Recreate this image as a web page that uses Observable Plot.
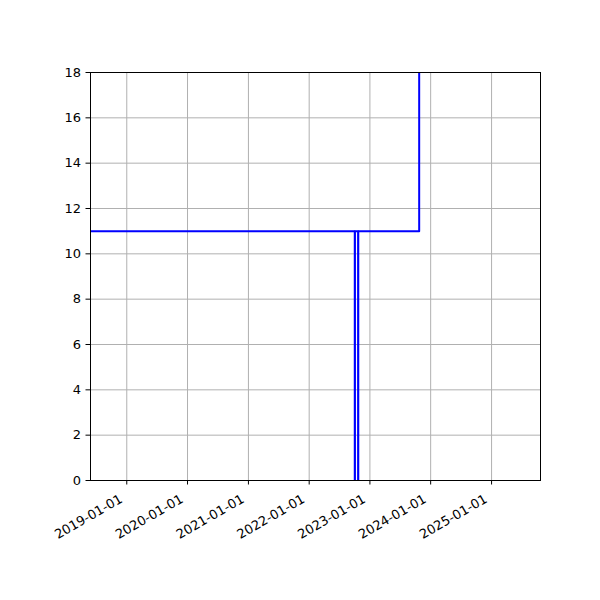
<!DOCTYPE html>
<html><head>
<meta charset="utf-8">
<script src="https://cdn.jsdelivr.net/npm/d3@7"></script>
<script src="https://cdn.jsdelivr.net/npm/@observablehq/plot@0.6"></script>
<style>body{margin:0;background:#fff}</style>
</head><body><div id="chart"></div>
<script>
const dates = ["2018-01-01", "2022-10-02", "2022-10-03", "2022-10-22", "2022-10-23", "2023-10-24", "2026-06-01"];
const values = [11, 0, 11, 0, 11, 25, 25];
const xTickLabels = ["2019-01-01", "2020-01-01", "2021-01-01", "2022-01-01", "2023-01-01", "2024-01-01", "2025-01-01"];
const yTicks = [0, 2, 4, 6, 8, 10, 12, 14, 16, 18];
const xDomain = ["2018-05-28", "2025-10-22"];

const data = dates.map((d, i) => ({date: new Date(d), value: values[i]}));
const xTicks = xTickLabels.map(d => new Date(d));

const chart = Plot.plot({
  width: 600, height: 600,
  marginLeft: 90, marginRight: 60, marginTop: 72, marginBottom: 120,
  style: {fontFamily: "DejaVu Sans", fontSize: "13px", color: "black", background: "white"},
  x: {type: "utc", domain: xDomain.map(d => new Date(d))},
  y: {domain: [0, 18]},
  marks: [
    Plot.gridX(xTicks, {stroke: "#b0b0b0", strokeOpacity: 1, strokeWidth: 1}),
    Plot.gridY(yTicks, {stroke: "#b0b0b0", strokeOpacity: 1, strokeWidth: 1}),
    Plot.line(data, {x: "date", y: "value", curve: "step-after", stroke: "blue", strokeWidth: 2, clip: true}),
    Plot.frame({stroke: "black", strokeWidth: 1}),
    Plot.axisX(xTicks, {tickSize: 4.5, tickFormat: () => "", label: null}),
    Plot.text(xTicks, {x: d => d, frameAnchor: "bottom", text: d => d3.utcFormat("%Y-%m-%d")(d),
      rotate: -30, textAnchor: "end", lineAnchor: "top", dx: -8, dy: 13, fill: "black", fontSize: 13}),
    Plot.axisY(yTicks, {tickSize: 4.5, tickPadding: 5, label: null})
  ]
});
document.getElementById("chart").appendChild(chart);
</script>
</body></html>
